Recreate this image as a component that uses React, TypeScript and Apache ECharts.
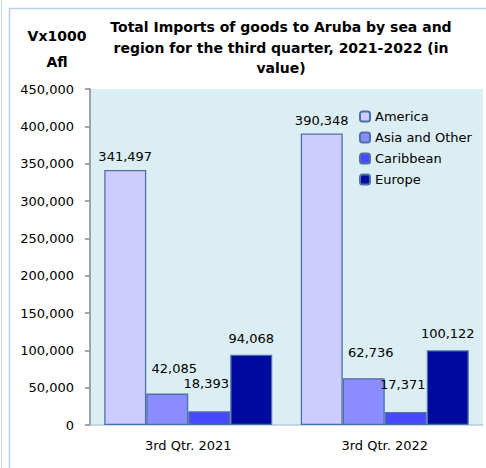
import React, { useEffect, useRef } from "react";
import * as echarts from "echarts";

const categories = ["3rd Qtr. 2021", "3rd Qtr. 2022"];
const seriesNames = ["America", "Asia and Other", "Caribbean", "Europe"];
const america = [341497, 390348];
const asiaOther = [42085, 62736];
const caribbean = [18393, 17371];
const europe = [94068, 100122];
const yTicks = [0, 50000, 100000, 150000, 200000, 250000, 300000, 350000, 400000, 450000];
const titleLines = [
  "Total Imports of goods to Aruba by sea and",
  "region for the third quarter, 2021-2022 (in",
  "value)",
];
const yNameLines = ["Vx1000", "Afl"];

const colors = ["#CCCCFF", "#8A8CFF", "#4A48FF", "#000A9E"];
const FONT = "DejaVu Sans";

export default function App() {
  const ref = useRef<HTMLDivElement>(null);
  useEffect(() => {
    if (!ref.current) return;
    const chart = echarts.init(ref.current, undefined, { renderer: "svg" });
    const values = [america, asiaOther, caribbean, europe];
    const labelDist = [7, 19, 21, 10];
    const labelOffX = [0, 7, -3, 0];
    const fmt = (v: number) => v.toLocaleString("en-US");
    const boldText = (text: string, x: number, y: number) => ({
      type: "text",
      x,
      y,
      style: {
        text,
        fontFamily: FONT,
        fontWeight: "bold",
        fontSize: 14,
        fill: "#000",
        textAlign: "center",
        textVerticalAlign: "middle",
      },
    });
    chart.setOption({
      animation: false,
      backgroundColor: "#ffffff",
      graphic: [
        { type: "line", shape: { x1: 1.5, y1: 0, x2: 1.5, y2: 468 }, style: { stroke: "#C6D9EE", lineWidth: 1 } },
        { type: "line", shape: { x1: 9.5, y1: 8, x2: 9.5, y2: 468 }, style: { stroke: "#B9D0EA", lineWidth: 1.5 } },
        { type: "line", shape: { x1: 9, y1: 8.5, x2: 486, y2: 8.5 }, style: { stroke: "#B9D0EA", lineWidth: 1.5 } },
        ...titleLines.map((t, i) => boldText(t, 281, 27 + i * 20.5)),
        ...yNameLines.map((t, i) => boldText(t, 57, 36 + i * 26)),
      ],
      legend: {
        orient: "vertical",
        left: 354,
        top: 105,
        itemWidth: 10,
        itemHeight: 10,
        itemGap: 8,
        data: seriesNames,
        textStyle: { fontFamily: FONT, fontSize: 13, color: "#000" },
      },
      grid: {
        left: 90,
        right: 3,
        top: 89,
        bottom: 43,
        show: true,
        backgroundColor: "#DAEEF3",
        borderWidth: 0,
      },
      xAxis: {
        type: "category",
        data: categories,
        axisLine: { show: true, lineStyle: { color: "#B7CCE2", width: 1.5 } },
        axisTick: { show: false },
        axisLabel: { fontFamily: FONT, fontSize: 13, color: "#000", margin: 14 },
      },
      yAxis: {
        type: "value",
        min: yTicks[0],
        max: yTicks[yTicks.length - 1],
        interval: 50000,
        splitLine: { show: false },
        axisLine: { show: true, lineStyle: { color: "#888888", width: 1.5 } },
        axisTick: { show: true, length: 5, lineStyle: { color: "#888888", width: 1.5 } },
        axisLabel: { fontFamily: FONT, fontSize: 13, color: "#000", margin: 16, formatter: (v: number) => fmt(v) },
      },
      series: seriesNames.map((name, i) => ({
        name,
        type: "bar",
        data: values[i],
        barGap: "0%",
        barCategoryGap: "14.5%",
        itemStyle: { color: colors[i], borderColor: "#4E72A6", borderWidth: 1.3 },
        label: {
          show: true,
          position: "top",
          distance: labelDist[i],
          offset: [labelOffX[i], 0],
          fontFamily: FONT,
          fontSize: 13,
          color: "#000",
          formatter: (p: any) => fmt(p.value),
        },
      })),
    });
    return () => chart.dispose();
  }, []);
  return <div ref={ref} style={{ position: "absolute", left: 0, top: 0, width: 486, height: 468 }} />;
}
